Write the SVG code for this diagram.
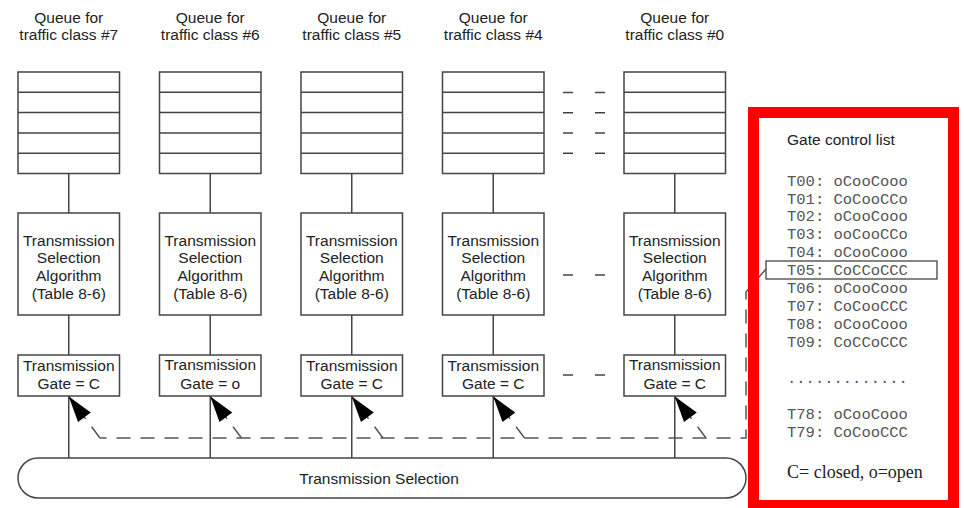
<svg xmlns="http://www.w3.org/2000/svg" width="964" height="508" viewBox="0 0 964 508">
<style>
  .box{fill:#fff;stroke:#444;stroke-width:1.5}
  .ln{fill:none;stroke:#444;stroke-width:1.5}
  .dash{fill:none;stroke:#555;stroke-width:1.5;stroke-dasharray:14 10}
  .t{font-family:"Liberation Sans",Arial,sans-serif;font-size:15.5px;fill:#222;text-anchor:middle}
  .mono{font-family:"Liberation Mono","Courier New",monospace;font-size:15.5px;fill:#555}
  .hd{font-family:"Liberation Sans",Arial,sans-serif;font-size:15.5px;fill:#222}
  .serif{font-family:"Liberation Serif","Times New Roman",serif;font-size:18px;fill:#222}
</style>
<defs>
  <marker id="ah" viewBox="-28 -10 29 20" refX="0" refY="0" markerWidth="29" markerHeight="20" orient="auto" markerUnits="userSpaceOnUse">
    <path d="M0,0 L-26,-8 L-26,8 Z" fill="#000"/>
  </marker>
  <g id="queue">
    <rect class="box" x="0" y="0" width="101.5" height="101.5"/>
    <path class="ln" d="M0,20.3 H101.5 M0,40.6 H101.5 M0,60.9 H101.5 M0,81.2 H101.5"/>
  </g>
</defs>
<rect width="964" height="508" fill="#fff"/>

<g id="connectors">
  <path class="ln" d="M68.75,173.5 V213 M68.75,315 V355 M68.75,396 V458"/>
  <path class="ln" d="M210.25,173.5 V213 M210.25,315 V355 M210.25,396 V458"/>
  <path class="ln" d="M351.75,173.5 V213 M351.75,315 V355 M351.75,396 V458"/>
  <path class="ln" d="M493.25,173.5 V213 M493.25,315 V355 M493.25,396 V458"/>
  <path class="ln" d="M674.75,173.5 V213 M674.75,315 V355 M674.75,396 V458"/>
  <path class="dash" d="M766,269 L746,292 V438 H100"/>
  <path class="dash" d="M100,438 L68.75,396.5" marker-end="url(#ah)"/>
  <path class="dash" d="M241.5,438 L210.25,396.5" marker-end="url(#ah)"/>
  <path class="dash" d="M383,438 L351.75,396.5" marker-end="url(#ah)"/>
  <path class="dash" d="M524.5,438 L493.25,396.5" marker-end="url(#ah)"/>
  <path class="dash" d="M706,438 L674.75,396.5" marker-end="url(#ah)"/>
  <path class="ln" d="M563,92.5 h10 M595,92.5 h10 M563,112.8 h10 M595,112.8 h10 M563,133 h10 M595,133 h10 M563,153.3 h10 M595,153.3 h10 M563,275 h10 M595,275 h10 M563,375 h10 M595,375 h10" stroke-width="1.3"/>
</g>

<g id="col7">
  <text class="t" x="68.75" y="23">Queue for</text>
  <text class="t" x="68.75" y="40">traffic class #7</text>
  <use href="#queue" x="18" y="72"/>
  <rect class="box" x="18" y="213" width="101.5" height="102"/>
  <text class="t" x="68.75" y="245.5">Transmission</text>
  <text class="t" x="68.75" y="263">Selection</text>
  <text class="t" x="68.75" y="281">Algorithm</text>
  <text class="t" x="68.75" y="298.5">(Table 8-6)</text>
  <rect class="box" x="18" y="355" width="101.5" height="41"/>
  <text class="t" x="68.75" y="371">Transmission</text>
  <text class="t" x="68.75" y="389">Gate = C</text>
</g>
<g id="col6">
  <text class="t" x="210.25" y="23">Queue for</text>
  <text class="t" x="210.25" y="40">traffic class #6</text>
  <use href="#queue" x="159.5" y="72"/>
  <rect class="box" x="159.5" y="213" width="101.5" height="102"/>
  <text class="t" x="210.25" y="245.5">Transmission</text>
  <text class="t" x="210.25" y="263">Selection</text>
  <text class="t" x="210.25" y="281">Algorithm</text>
  <text class="t" x="210.25" y="298.5">(Table 8-6)</text>
  <rect class="box" x="159.5" y="355" width="101.5" height="41"/>
  <text class="t" x="210.25" y="370">Transmission</text>
  <text class="t" x="210.25" y="389">Gate = o</text>
</g>
<g id="col5">
  <text class="t" x="351.75" y="23">Queue for</text>
  <text class="t" x="351.75" y="40">traffic class #5</text>
  <use href="#queue" x="301" y="72"/>
  <rect class="box" x="301" y="213" width="101.5" height="102"/>
  <text class="t" x="351.75" y="245.5">Transmission</text>
  <text class="t" x="351.75" y="263">Selection</text>
  <text class="t" x="351.75" y="281">Algorithm</text>
  <text class="t" x="351.75" y="298.5">(Table 8-6)</text>
  <rect class="box" x="301" y="355" width="101.5" height="41"/>
  <text class="t" x="351.75" y="371">Transmission</text>
  <text class="t" x="351.75" y="389">Gate = C</text>
</g>
<g id="col4">
  <text class="t" x="493.25" y="23">Queue for</text>
  <text class="t" x="493.25" y="40">traffic class #4</text>
  <use href="#queue" x="442.5" y="72"/>
  <rect class="box" x="442.5" y="213" width="101.5" height="102"/>
  <text class="t" x="493.25" y="245.5">Transmission</text>
  <text class="t" x="493.25" y="263">Selection</text>
  <text class="t" x="493.25" y="281">Algorithm</text>
  <text class="t" x="493.25" y="298.5">(Table 8-6)</text>
  <rect class="box" x="442.5" y="355" width="101.5" height="41"/>
  <text class="t" x="493.25" y="371">Transmission</text>
  <text class="t" x="493.25" y="389">Gate = C</text>
</g>
<g id="col0">
  <text class="t" x="674.75" y="23">Queue for</text>
  <text class="t" x="674.75" y="40">traffic class #0</text>
  <use href="#queue" x="624" y="72"/>
  <rect class="box" x="624" y="213" width="101.5" height="102"/>
  <text class="t" x="674.75" y="245.5">Transmission</text>
  <text class="t" x="674.75" y="263">Selection</text>
  <text class="t" x="674.75" y="281">Algorithm</text>
  <text class="t" x="674.75" y="298.5">(Table 8-6)</text>
  <rect class="box" x="624" y="355" width="101.5" height="41"/>
  <text class="t" x="674.75" y="370">Transmission</text>
  <text class="t" x="674.75" y="389">Gate = C</text>
</g>

<g id="selection">
  <rect class="box" x="18" y="458" width="728" height="40" rx="20" ry="20"/>
  <text class="t" x="379" y="484">Transmission Selection</text>
</g>

<g id="gcl">
  <rect x="753.5" y="112.5" width="200" height="393" fill="none" stroke="#ff0000" stroke-width="11"/>
  <text class="hd" x="787" y="145">Gate control list</text>
  <rect x="766" y="261" width="171" height="18" fill="none" stroke="#444" stroke-width="1.3"/>
  <text class="mono" x="787" y="186">T00: oCooCooo</text>
  <text class="mono" x="787" y="203.5">T01: CoCooCCo</text>
  <text class="mono" x="787" y="221">T02: oCooCooo</text>
  <text class="mono" x="787" y="239">T03: ooCooCCo</text>
  <text class="mono" x="787" y="257">T04: oCooCooo</text>
  <text class="mono" x="787" y="275">T05: CoCCoCCC</text>
  <text class="mono" x="787" y="293">T06: oCooCooo</text>
  <text class="mono" x="787" y="311">T07: CoCooCCC</text>
  <text class="mono" x="787" y="329">T08: oCooCooo</text>
  <text class="mono" x="787" y="347">T09: CoCCoCCC</text>
  <text class="mono" x="787" y="383">.............</text>
  <text class="mono" x="787" y="418.5">T78: oCooCooo</text>
  <text class="mono" x="787" y="437">T79: CoCooCCC</text>
  <text class="serif" x="787" y="478">C= closed, o=open</text>
</g>
</svg>
